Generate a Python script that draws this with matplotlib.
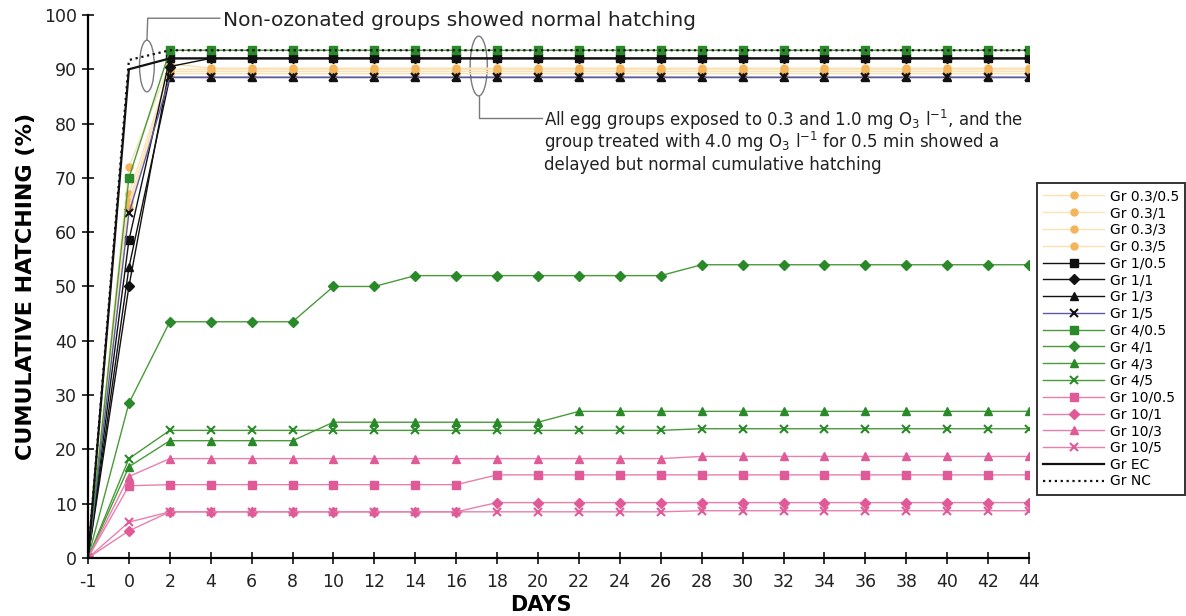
import matplotlib.pyplot as plt
import numpy as np
from matplotlib.patches import Ellipse

days = ['-1', '0', '2', '4', '6', '8', '10', '12', '14', '16', '18', '20',
        '22', '24', '26', '28', '30', '32', '34', '36', '38', '40', '42', '44']

# hatching values (%), one per day
g03_05 = [0, 72.0, 91.0, 90.2, 90.2, 90.2, 90.2, 90.2, 90.2, 90.2, 90.2, 90.2,
          90.2, 90.2, 90.2, 90.2, 90.2, 90.2, 90.2, 90.2, 90.2, 90.2, 90.2, 90.2]
g03_1 = [0, 67.0, 90.0, 90.0, 90.0, 90.0, 90.0, 90.0, 90.0, 90.0, 90.0, 90.0,
         90.0, 90.0, 90.0, 90.0, 90.0, 90.0, 90.0, 90.0, 90.0, 90.0, 90.0, 90.0]
g03_3 = [0, 65.5, 89.6, 89.6, 89.6, 89.6, 89.6, 89.6, 89.6, 89.6, 89.6, 89.6,
         89.6, 89.6, 89.6, 89.6, 89.6, 89.6, 89.6, 89.6, 89.6, 89.6, 89.6, 89.6]
g03_5 = [0, 64.5, 89.2, 89.2, 89.2, 89.2, 89.2, 89.2, 89.2, 89.2, 89.2, 89.2,
         89.2, 89.2, 89.2, 89.2, 89.2, 89.2, 89.2, 89.2, 89.2, 89.2, 89.2, 89.2]
g1_05 = [0, 58.5, 92.0, 92.0, 92.0, 92.0, 92.0, 92.0, 92.0, 92.0, 92.0, 92.0,
         92.0, 92.0, 92.0, 92.0, 92.0, 92.0, 92.0, 92.0, 92.0, 92.0, 92.0, 92.0]
g1_1 = [0, 50.0, 90.5, 92.0, 92.0, 92.0, 92.0, 92.0, 92.0, 92.0, 92.0, 92.0,
        92.0, 92.0, 92.0, 92.0, 92.0, 92.0, 92.0, 92.0, 92.0, 92.0, 92.0, 92.0]
g1_3 = [0, 53.5, 88.5, 88.5, 88.5, 88.5, 88.5, 88.5, 88.5, 88.5, 88.5, 88.5,
        88.5, 88.5, 88.5, 88.5, 88.5, 88.5, 88.5, 88.5, 88.5, 88.5, 88.5, 88.5]
g1_5 = [0, 63.5, 88.5, 88.5, 88.5, 88.5, 88.5, 88.5, 88.5, 88.5, 88.5, 88.5,
        88.5, 88.5, 88.5, 88.5, 88.5, 88.5, 88.5, 88.5, 88.5, 88.5, 88.5, 88.5]
g4_05 = [0, 70.0, 93.5, 93.5, 93.5, 93.5, 93.5, 93.5, 93.5, 93.5, 93.5, 93.5,
         93.5, 93.5, 93.5, 93.5, 93.5, 93.5, 93.5, 93.5, 93.5, 93.5, 93.5, 93.5]
g4_1 = [0, 28.5, 43.5, 43.5, 43.5, 43.5, 50.0, 50.0, 52.0, 52.0, 52.0, 52.0,
        52.0, 52.0, 52.0, 54.0, 54.0, 54.0, 54.0, 54.0, 54.0, 54.0, 54.0, 54.0]
g4_3 = [0, 16.8, 21.6, 21.6, 21.6, 21.6, 25.0, 25.0, 25.0, 25.0, 25.0, 25.0,
        27.0, 27.0, 27.0, 27.0, 27.0, 27.0, 27.0, 27.0, 27.0, 27.0, 27.0, 27.0]
g4_5 = [0, 18.3, 23.5, 23.5, 23.5, 23.5, 23.5, 23.5, 23.5, 23.5, 23.5, 23.5,
        23.5, 23.5, 23.5, 23.8, 23.8, 23.8, 23.8, 23.8, 23.8, 23.8, 23.8, 23.8]
g10_05 = [0, 13.3, 13.5, 13.5, 13.5, 13.5, 13.5, 13.5, 13.5, 13.5, 15.3, 15.3,
          15.3, 15.3, 15.3, 15.3, 15.3, 15.3, 15.3, 15.3, 15.3, 15.3, 15.3, 15.3]
g10_1 = [0, 5.0, 8.5, 8.5, 8.5, 8.5, 8.5, 8.5, 8.5, 8.5, 10.2, 10.2,
         10.2, 10.2, 10.2, 10.2, 10.2, 10.2, 10.2, 10.2, 10.2, 10.2, 10.2, 10.2]
g10_3 = [0, 15.0, 18.3, 18.3, 18.3, 18.3, 18.3, 18.3, 18.3, 18.3, 18.3, 18.3,
         18.3, 18.3, 18.3, 18.7, 18.7, 18.7, 18.7, 18.7, 18.7, 18.7, 18.7, 18.7]
g10_5 = [0, 6.6, 8.5, 8.5, 8.5, 8.5, 8.5, 8.5, 8.5, 8.5, 8.5, 8.5,
         8.5, 8.5, 8.5, 8.7, 8.7, 8.7, 8.7, 8.7, 8.7, 8.7, 8.7, 8.7]
gEC = [0, 90.0, 92.0, 92.0, 92.0, 92.0, 92.0, 92.0, 92.0, 92.0, 92.0, 92.0,
       92.0, 92.0, 92.0, 92.0, 92.0, 92.0, 92.0, 92.0, 92.0, 92.0, 92.0, 92.0]
gNC = [0, 91.7, 93.5, 93.5, 93.5, 93.5, 93.5, 93.5, 93.5, 93.5, 93.5, 93.5,
       93.5, 93.5, 93.5, 93.5, 93.5, 93.5, 93.5, 93.5, 93.5, 93.5, 93.5, 93.5]

orange_m, orange_l = '#f4b45a', '#fbe2b4'
black = '#111111'
purple = '#5a5aa8'
green_m, green_l = '#2a8a2a', '#4a9a3a'
pink_m, pink_l = '#e05a97', '#e97fad'

# label, values, line colour, marker, marker colour, linestyle
series = [
    ('Gr 0.3/0.5', g03_05, orange_l, 'o', orange_m, '-'),
    ('Gr 0.3/1', g03_1, orange_l, 'o', orange_m, '-'),
    ('Gr 0.3/3', g03_3, orange_l, 'o', orange_m, '-'),
    ('Gr 0.3/5', g03_5, orange_l, 'o', orange_m, '-'),
    ('Gr 1/0.5', g1_05, black, 's', black, '-'),
    ('Gr 1/1', g1_1, black, 'D', black, '-'),
    ('Gr 1/3', g1_3, black, '^', black, '-'),
    ('Gr 1/5', g1_5, purple, 'x', black, '-'),
    ('Gr 4/0.5', g4_05, green_l, 's', green_m, '-'),
    ('Gr 4/1', g4_1, green_l, 'D', green_m, '-'),
    ('Gr 4/3', g4_3, green_l, '^', green_m, '-'),
    ('Gr 4/5', g4_5, green_l, 'x', green_m, '-'),
    ('Gr 10/0.5', g10_05, pink_l, 's', pink_m, '-'),
    ('Gr 10/1', g10_1, pink_l, 'D', pink_m, '-'),
    ('Gr 10/3', g10_3, pink_l, '^', pink_m, '-'),
    ('Gr 10/5', g10_5, pink_l, 'x', pink_m, '-'),
    ('Gr EC', gEC, black, None, black, '-'),
    ('Gr NC', gNC, black, None, black, ':'),
]

fig = plt.figure(figsize=(11.86, 6.16), dpi=100)
ax = fig.add_axes([0.0742, 0.0942, 0.7934, 0.8815])

x = np.arange(len(days))
for label, vals, lc, mk, mc, ls in series:
    ms = 5 if mk in ('D', 'o') else 6
    lw = 1.6 if label in ('Gr EC', 'Gr NC') else 1.0
    ax.plot(x, vals, color=lc, linestyle=ls, linewidth=lw, marker=mk,
            markersize=ms, markerfacecolor=mc, markeredgecolor=mc,
            markeredgewidth=1.5 if mk == 'x' else 1.0, label=label)

ax.set_xlim(0, len(days) - 1)
ax.set_ylim(0, 100)
ax.set_xticks(x)
ax.set_xticklabels(days)
ax.set_yticks(np.arange(0, 101, 10))
ax.spines['top'].set_visible(False)
ax.spines['right'].set_visible(False)
ax.spines['left'].set_linewidth(1.6)
ax.spines['bottom'].set_linewidth(1.6)
ax.tick_params(direction='inout', length=9, width=1.3, labelsize=12.5,
               colors='#222222')
ax.tick_params(axis='x', pad=6)
ax.set_xlabel('DAYS', fontsize=15, fontweight='bold')
ax.xaxis.set_label_coords(0.481, -0.068)
ax.set_ylabel('CUMULATIVE HATCHING (%)', fontsize=16, fontweight='bold')
ax.yaxis.set_label_coords(-0.055, 0.5)

# callouts
grey = '#7a7a7a'
ax.add_patch(Ellipse((1.44, 90.6), 0.36, 9.5, fill=False, edgecolor=grey, lw=1.0))
ax.plot([1.44, 1.46, 3.22], [95.4, 99.4, 99.4], color=grey, lw=1.0, clip_on=False)
ax.text(3.3, 99.0, 'Non-ozonated groups showed normal hatching', fontsize=14.5,
        va='center', ha='left', color='#222222')

ax.add_patch(Ellipse((9.55, 90.6), 0.42, 11.0, fill=False, edgecolor=grey, lw=1.0))
ax.plot([9.55, 9.55, 11.09], [85.0, 81.0, 81.0], color=grey, lw=1.0)
note_lines = ['All egg groups exposed to 0.3 and 1.0 mg O$_3$ l$^{-1}$, and the',
              'group treated with 4.0 mg O$_3$ l$^{-1}$ for 0.5 min showed a',
              'delayed but normal cumulative hatching']
for i, line in enumerate(note_lines):
    ax.text(11.14, 79.5 - 4.07 * i, line, fontsize=12, va='baseline',
            ha='left', color='#222222')

leg = ax.legend(loc='upper left', bbox_to_anchor=(1037 / 1186, 1 - 183 / 616),
                bbox_transform=fig.transFigure, frameon=True, fancybox=False,
                edgecolor='black', fontsize=10, handlelength=4.4,
                labelspacing=0.2, borderaxespad=0, borderpad=0.45,
                handletextpad=0.4)
leg.get_frame().set_linewidth(1.4)

fig.savefig('out.png', dpi=100)
